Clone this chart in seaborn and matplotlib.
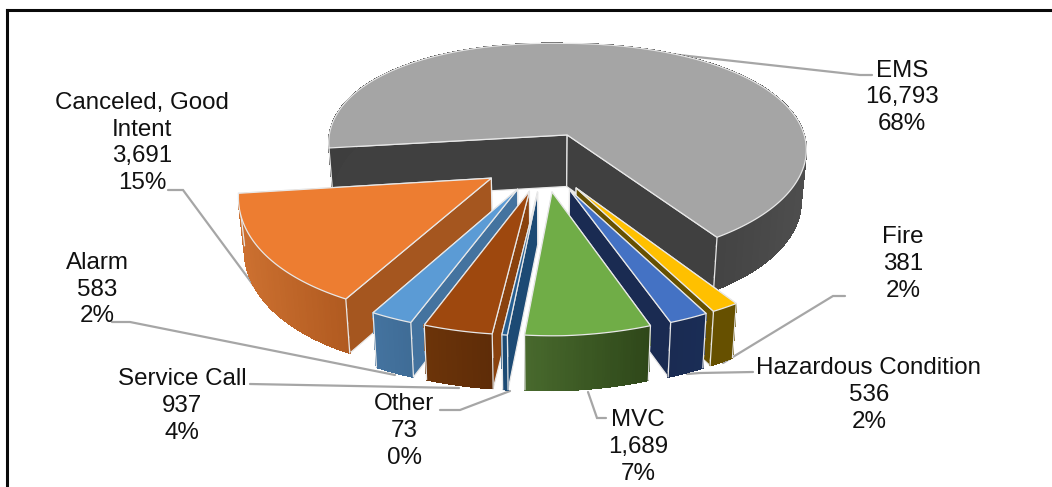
import numpy as np
import matplotlib
matplotlib.use("Agg")
import matplotlib.pyplot as plt
from matplotlib.patches import Polygon
import seaborn as sns

sns.set_theme(style="white")
plt.rcParams["font.family"] = ["Liberation Sans", "DejaVu Sans"]

# Incident counts, clockwise from the start of the pie
categories = ["EMS", "Fire", "Hazardous Condition", "MVC", "Other",
              "Service Call", "Alarm", "Canceled, Good\nIntent"]
values = [16793, 381, 536, 1689, 73, 937, 583, 3691]

top_colors = ["#A5A5A5", "#FFC000", "#4472C4", "#70AD47",
              "#255E91", "#9E480E", "#5B9BD5", "#ED7D31"]
cut_colors = ["#404040", "#665000", "#1A2B52", "#3A5A24",
              "#1C4A74", "#8A420E", "#44739F", "#A5561F"]
arc_left = ["#3E3E3E", "#665000", "#1A2B52", "#48692D",
            "#1C4A74", "#6C3409", "#44739F", "#CC7030"]
arc_right = ["#4E4E4E", "#665000", "#1A2D56", "#2E4719",
             "#1C4A74", "#5E2C08", "#3F6C96", "#B05A20"]

# Pie placement and pseudo-3D projection
CX, CY = 543.0, 161.5
RADIUS = 244.0
START = 261.0
EXPLODE = 0.256
DEPTH = 52.0
FOCAL = 8.0
TILT, BULGE = 0.4807, 0.0718
EDGE = "#E8E8E8"


def project(x, y):
    persp = FOCAL / (FOCAL - y)
    # the camera sits slightly off-axis, which drags the near left side outward
    drift_x = max(y, 0) ** 2 * (5.8 - 6.6 * x)
    drift_y = 4.5 * min(x - 0.1, 0)
    return (CX + RADIUS * x * persp - drift_x,
            CY + RADIUS * (TILT * y + BULGE * y * y) + drift_y)


def floor_of(sx, sy, y):
    persp = FOCAL / (FOCAL - y)
    return sx + (CX - sx) * 0.02, sy + DEPTH * persp ** 0.3


fig = plt.figure(figsize=(10.52, 4.87), dpi=100)
ax = fig.add_axes([0, 0, 1, 1])
ax.set_xlim(0, 1052)
ax.set_ylim(487, 0)
ax.axis("off")

# Outer frame, open on the right
ax.plot([7, 7], [487, 9.5], color="#0A0A0A", lw=2.2, solid_capstyle="projecting")
ax.plot([7, 1052], [9.5, 9.5], color="#0A0A0A", lw=2.2, solid_capstyle="projecting")

# Leader lines sit behind the slices
leaders = [
    [(625, 49), (860, 75), (872, 75)],
    [(168, 190), (183, 190), (268, 305)],
    [(112, 322), (130, 322), (395, 375)],
    [(250, 384), (459, 388)],
    [(440, 410), (460, 410), (510, 391)],
    [(588, 392), (597, 418), (606, 418)],
    [(687, 374), (700, 373), (753, 372)],
    [(723, 363), (833, 296), (845, 296)],
]
for path in leaders:
    xs, ys = zip(*path)
    ax.plot(xs, ys, color="#A6A6A6", lw=1.6, zorder=1, solid_joinstyle="miter")

# Turn the values into angular spans
total = sum(values)
spans = [v / total * 360 for v in values]
starts = START + np.concatenate([[0], np.cumsum(spans)[:-1]])

slices = []
for i, (a0, span) in enumerate(zip(starts, spans)):
    mid = np.radians(a0 + span / 2)
    ox, oy = EXPLODE * np.sin(mid), -EXPLODE * np.cos(mid)
    slices.append((CY + RADIUS * TILT * oy, i, a0, span, ox, oy))

# Paint from the back of the scene to the front
z = 2
for _, i, a0, span, ox, oy in sorted(slices):
    theta = np.radians(np.linspace(a0, a0 + span, max(int(span * 2), 6)))
    wx, wy = ox + np.sin(theta), oy - np.cos(theta)
    rim_top = [project(a, b) for a, b in zip(wx, wy)]
    apex = project(ox, oy)
    apex_floor = floor_of(*apex, oy)
    rim_floor = [floor_of(p[0], p[1], b) for p, b in zip(rim_top, wy)]

    # Cut faces, the one reaching further forward goes on last
    ends = [(rim_top[0], rim_floor[0]), (rim_top[-1], rim_floor[-1])]
    for rim, low in sorted(ends, key=lambda pair: pair[0][1]):
        ax.add_patch(Polygon([apex, rim, low, apex_floor], closed=True,
                             facecolor=cut_colors[i], edgecolor=EDGE,
                             lw=0.9, zorder=z, joinstyle="round"))
        z += 1

    # Curved outer wall with a horizontal colour blend
    ramp = sns.blend_palette([arc_left[i], arc_right[i]], 40)
    xs = np.array([p[0] for p in rim_top])
    lo, hi = xs.min(), xs.max()
    if i == 0:
        lo = project(0.5, 0.5)[0]
    for k in range(len(rim_top) - 1):
        quad = [rim_top[k], rim_top[k + 1], rim_floor[k + 1], rim_floor[k]]
        frac = np.clip((xs[k] - lo) / max(hi - lo, 1), 0, 1)
        col = ramp[int(frac * 39)]
        ax.add_patch(Polygon(quad, closed=True, facecolor=col, edgecolor=col,
                             lw=0.5, zorder=z, antialiased=False))
        ax.plot([rim_floor[k][0], rim_floor[k + 1][0]],
                [rim_floor[k][1], rim_floor[k + 1][1]],
                color=col, lw=0.7, zorder=z)
    z += 1
    for p, q in ends:
        ax.plot([p[0], q[0]], [p[1], q[1]], color=EDGE, lw=0.9, zorder=z)
    z += 1

    # Top face
    ax.add_patch(Polygon([apex] + rim_top, closed=True, facecolor=top_colors[i],
                         edgecolor=EDGE, lw=0.9, zorder=z, joinstyle="round"))
    z += 1

# Data labels: category, count, share
label_anchor = {
    "EMS": (902, 97.5),
    "Fire": (903, 264),
    "Hazardous Condition": (869, 395),
    "MVC": (638, 447),
    "Other": (404, 431),
    "Service Call": (182, 406),
    "Alarm": (97, 289.5),
    "Canceled, Good\nIntent": (142, 143),
}
for name, v in zip(categories, values):
    x, y = label_anchor[name]
    ax.text(x, y, f"{name}\n{v:,}\n{round(v / total * 100)}%", ha="center",
            va="center", fontsize=17.4, color="#111111", linespacing=1.27,
            zorder=100)

fig.savefig("out.png", dpi=100, facecolor="white")
